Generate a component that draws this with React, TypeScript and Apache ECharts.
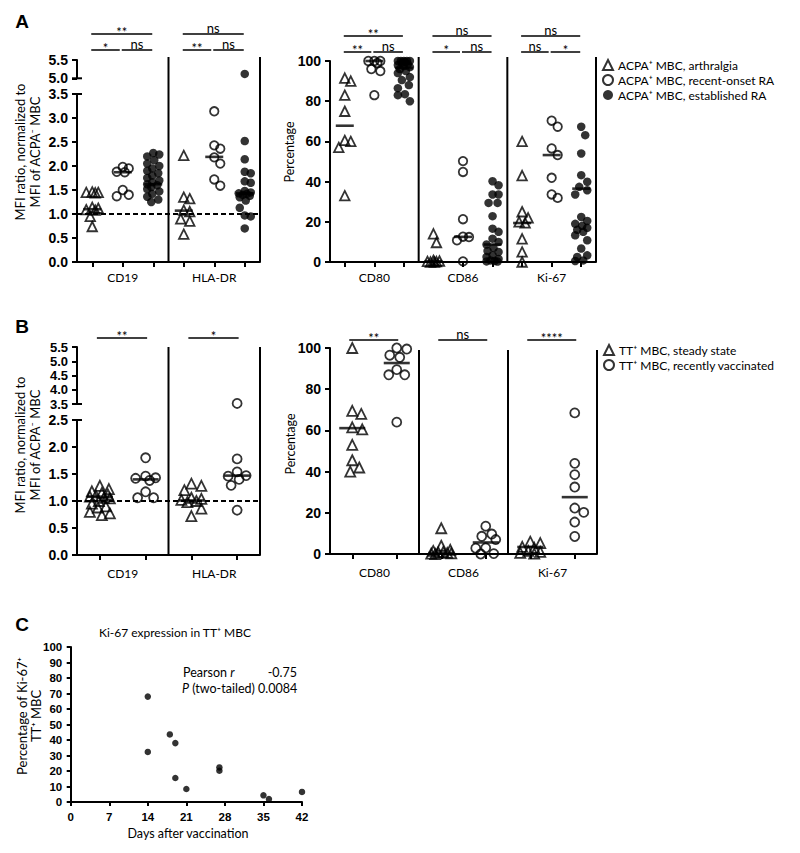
import React, { useEffect, useRef } from "react";
import * as echarts from "echarts";

// ======================= DATA =======================
// Panel A – ACPA+ memory B cells
const aCohorts = ["ACPA⁺ MBC, arthralgia", "ACPA⁺ MBC, recent-onset RA", "ACPA⁺ MBC, established RA"];
const aMfiMarkers = ["CD19", "HLA-DR"];
const aMfiCd19Arthralgia = [1.46, 1.45, 1.45, 1.44, 1.14, 1.12, 1.09, 1.08, 0.95, 0.74];
const aMfiCd19RecentOnset = [1.98, 1.95, 1.88, 1.87, 1.5, 1.4, 1.37];
const aMfiCd19Established = [2.27, 2.24, 2.2, 2.12, 2.05, 2.0, 1.95, 1.9, 1.85, 1.8, 1.75, 1.7, 1.66, 1.62, 1.6, 1.56, 1.52, 1.47, 1.42, 1.36, 1.3, 1.25];
const aMfiHlaArthralgia = [2.22, 1.35, 1.32, 1.08, 1.05, 0.9, 0.85, 0.58];
const aMfiHlaRecentOnset = [3.14, 2.43, 2.36, 2.18, 2.05, 1.72, 1.59];
const aMfiHlaEstablished = [5.12, 2.52, 2.14, 1.88, 1.85, 1.68, 1.65, 1.48, 1.45, 1.43, 1.42, 1.4, 1.38, 1.35, 1.28, 1.13, 0.97, 0.95, 0.7];
const aMfiMedians = [1.1, 1.87, 1.62, 1.07, 2.19, 1.43];
const aMfiSignificance: [number, number, string, number][] = [
  [0, 2, "**", 0], [0, 1, "*", 1], [1, 2, "ns", 1],
  [3, 5, "ns", 0], [3, 4, "**", 1], [4, 5, "ns", 1],
];

const aPctMarkers = ["CD80", "CD86", "Ki-67"];
const aPctCd80Arthralgia = [91.5, 90, 83, 75, 60.5, 60, 57, 33];
const aPctCd80RecentOnset = [100, 100, 100, 99, 96, 95, 83];
const aPctCd80Established = [100, 100, 100, 100, 100, 99.5, 99, 98.5, 98, 97.5, 97, 96, 95, 94, 92, 90.5, 88, 86.5, 83.5, 83, 80];
const aPctCd86Arthralgia = [14, 9.7, 0.8, 0.5, 0.3, 0.2, 0, 0];
const aPctCd86RecentOnset = [50.2, 44.8, 21.3, 12.6, 12.4, 10.8, 0.3];
const aPctCd86Established = [40.2, 38.2, 33.6, 33.6, 29.4, 29.4, 22.8, 16.6, 15, 11.6, 10, 8.7, 7, 5.5, 5, 3.3, 2.5, 1.5, 0.8, 0.5, 0.3, 0.2];
const aPctKi67Arthralgia = [60, 43, 25, 22, 20, 19.5, 11.5, 5, 0];
const aPctKi67RecentOnset = [70.3, 67.3, 56.5, 53.2, 41.9, 33.6, 31.9];
const aPctKi67Established = [67.3, 63.1, 54, 43.2, 39.9, 37.4, 35.7, 33.6, 22.4, 20.4, 19, 18, 17, 16, 15, 13.3, 10.8, 6.7, 3.3, 2.5, 0.8, 0.5];
const aPctMedians = [67.8, 100, 96.5, 0.4, 12.5, 8.7, 19.4, 53.2, 36.5];
const aPctSignificance: [number, number, string, number][] = [
  [0, 2, "**", 0], [0, 1, "**", 1], [1, 2, "ns", 1],
  [3, 5, "ns", 0], [3, 4, "*", 1], [4, 5, "ns", 1],
  [6, 8, "ns", 0], [6, 7, "ns", 1], [7, 8, "*", 1],
];

// Panel B – TT+ memory B cells
const bCohorts = ["TT⁺ MBC, steady state", "TT⁺ MBC, recently vaccinated"];
const bMfiMarkers = ["CD19", "HLA-DR"];
const bMfiCd19Steady = [1.28, 1.22, 1.18, 1.15, 1.12, 1.1, 1.08, 1.06, 1.05, 1.0, 0.95, 0.9, 0.88, 0.8, 0.77, 0.74];
const bMfiCd19Vaccinated = [1.8, 1.46, 1.43, 1.42, 1.38, 1.17, 1.06, 1.06];
const bMfiHlaSteady = [1.32, 1.28, 1.2, 1.06, 1.04, 1.02, 1.0, 0.98, 0.86, 0.72];
const bMfiHlaVaccinated = [3.52, 1.78, 1.54, 1.47, 1.46, 1.4, 1.29, 0.83];
const bMfiMedians = [1.08, 1.4, 1.01, 1.47];
const bMfiSignificance: [number, number, string, number][] = [[0, 1, "**", 0], [2, 3, "*", 0]];

const bPctMarkers = ["CD80", "CD86", "Ki-67"];
const bPctCd80Steady = [100, 69.5, 68, 61.5, 60.5, 53, 45.5, 42, 40];
const bPctCd80Vaccinated = [100, 99.5, 96.5, 95.5, 89.5, 87, 87, 64];
const bPctCd86Steady = [12.5, 4, 2, 1.5, 1, 0.8, 0.5, 0.3, 0.2, 0];
const bPctCd86Vaccinated = [13.5, 9.7, 8.6, 7, 3, 2.8, 0.2, 0];
const bPctKi67Steady = [6, 5.3, 3.5, 3, 1.5, 1, 0.5, 0.2];
const bPctKi67Vaccinated = [68.5, 44, 38.5, 32.5, 22.3, 20.2, 15.5, 8.5];
const bPctMedians = [61.1, 92.7, 0.5, 5.6, 3.4, 27.6];
const bPctSignificance: [number, number, string, number][] = [[0, 1, "**", 0], [2, 3, "ns", 0], [4, 5, "****", 0]];

// Panel C – Ki-67 vs days after vaccination
const cTitle = "Ki-67 expression in TT⁺ MBC";
const cDays = [14, 14, 18, 19, 19, 21, 27, 27, 35, 36, 42];
const cKi67 = [68, 32.3, 43.6, 38, 15.5, 8.4, 22.3, 20.2, 4.3, 1.9, 6.5];
const cPearsonR = "-0.75";
const cPValue = "0.0084";

// ======================= STYLE / LAYOUT =======================
const FONT_NUM = "'Liberation Sans', Arial, Helvetica, sans-serif";
const FONT_TXT = "Lato, 'Open Sans', 'DejaVu Sans', sans-serif";
const hollow = { color: "rgba(0,0,0,0)", borderColor: "#000", borderWidth: 1.8 };
const solid = { color: "#000", borderWidth: 0 };

type Rect = { left: number; top: number; width: number; height: number };
type CohortStyle = { symbol: string; filled: boolean; size: number };

const aStyles: CohortStyle[] = [
  { symbol: "triangle", filled: false, size: 9.5 },
  { symbol: "circle", filled: false, size: 8.5 },
  { symbol: "circle", filled: true, size: 8.5 },
];
const bStyles: CohortStyle[] = [
  { symbol: "triangle", filled: false, size: 10 },
  { symbol: "circle", filled: false, size: 9 },
];

const dotPanels: any[] = [
  {
    upper: { left: 77, top: 60, width: 183, height: 18.3 }, upperRange: [5, 5.5, 0.5], upperFont: 14,
    lower: { left: 77, top: 94, width: 183, height: 168 }, lowerRange: [0, 3.5, 0.5],
    groups: [aMfiCd19Arthralgia, aMfiCd19RecentOnset, aMfiCd19Established, aMfiHlaArthralgia, aMfiHlaRecentOnset, aMfiHlaEstablished],
    cohorts: aCohorts, styles: aStyles, markers: aMfiMarkers, medians: aMfiMedians, medianWidth: 18,
    cap: 6, diam: 9, decimals: 1, labelMargin: 9, refLine: 1,
    significance: aMfiSignificance, bracketY: [34, 50], bracketStyle: "narrow", dividerTop: 57,
    title: ["MFI ratio, normalized to", "MFI of ACPA⁻ MBC"], titlePos: [27, 152], titleSize: 13,
  },
  {
    lower: { left: 330, top: 61, width: 266, height: 201 }, lowerRange: [0, 100, 20],
    groups: [aPctCd80Arthralgia, aPctCd80RecentOnset, aPctCd80Established, aPctCd86Arthralgia, aPctCd86RecentOnset, aPctCd86Established, aPctKi67Arthralgia, aPctKi67RecentOnset, aPctKi67Established],
    cohorts: aCohorts, styles: aStyles, markers: aPctMarkers, medians: aPctMedians, medianWidth: 18,
    cap: 6, diam: 9, decimals: 0, labelMargin: 9,
    significance: aPctSignificance, bracketY: [36, 52], bracketStyle: "narrow", dividerTop: 57,
    title: ["Percentage"], titlePos: [289, 152], titleSize: 12.5,
  },
  {
    upper: { left: 77, top: 347, width: 183, height: 57 }, upperRange: [3.5, 5.5, 0.5], upperFont: 13,
    lower: { left: 77, top: 420, width: 183, height: 135 }, lowerRange: [0, 2.5, 0.5],
    groups: [bMfiCd19Steady, bMfiCd19Vaccinated, bMfiHlaSteady, bMfiHlaVaccinated],
    cohorts: bCohorts, styles: bStyles, markers: bMfiMarkers, medians: bMfiMedians, medianWidth: 26,
    cap: 10, diam: 9.5, decimals: 1, labelMargin: 12, refLine: 1,
    significance: bMfiSignificance, bracketY: [338], bracketStyle: "wide", dividerTop: 347,
    title: ["MFI ratio, normalized to", "MFI of ACPA⁻ MBC"], titlePos: [27, 445], titleSize: 13,
  },
  {
    lower: { left: 330, top: 348, width: 267, height: 206 }, lowerRange: [0, 100, 20],
    groups: [bPctCd80Steady, bPctCd80Vaccinated, bPctCd86Steady, bPctCd86Vaccinated, bPctKi67Steady, bPctKi67Vaccinated],
    cohorts: bCohorts, styles: bStyles, markers: bPctMarkers, medians: bPctMedians, medianWidth: 26,
    cap: 10, diam: 9.5, decimals: 0, labelMargin: 12,
    significance: bPctSignificance, bracketY: [340], bracketStyle: "wide", dividerTop: 350,
    title: ["Percentage"], titlePos: [290, 444], titleSize: 12.5,
  },
];

const cGrid: Rect = { left: 70.7, top: 647, width: 231.3, height: 155 };

// ======================= HELPERS =======================
// simple beeswarm: horizontal pixel offsets for points given their vertical pixel positions
function swarm(ys: number[], diam: number, cap: number): number[] {
  const order = ys.map((_, i) => i).sort((a, b) => ys[b] - ys[a]);
  const placed: { x: number; y: number }[] = [];
  const out = new Array(ys.length).fill(0);
  const cands: number[] = [0];
  for (let k = 1; k <= cap; k++) cands.push(k, -k);
  for (const idx of order) {
    const y = ys[idx];
    let best = 0;
    let bestScore = -Infinity;
    for (const c of cands) {
      let minD = Infinity;
      for (const p of placed) {
        const d = Math.hypot(p.x - c, p.y - y);
        if (d < minD) minD = d;
      }
      if (minD >= diam) { best = c; break; }
      if (minD > bestScore + 1e-9) { bestScore = minD; best = c; }
    }
    placed.push({ x: best, y });
    out[idx] = best;
  }
  return out;
}

function gridOf(r: Rect) {
  return { ...r, containLabel: false, outerBoundsMode: "none" };
}

function yAxisOf(gridIndex: number, range: number[], decimals: number, fontSize = 14, margin = 9) {
  return {
    type: "value", gridIndex, min: range[0], max: range[1], interval: range[2], position: "left",
    axisLine: { show: true, onZero: false, lineStyle: { color: "#000", width: 2 } },
    axisTick: { show: true, inside: false, length: 5, lineStyle: { color: "#000", width: 2 } },
    axisLabel: {
      show: true, margin, color: "#000", fontFamily: FONT_NUM, fontWeight: "bold", fontSize, lineHeight: fontSize,
      formatter: (v: number) => v.toFixed(decimals),
    },
    splitLine: { show: false },
  };
}

function buildOption() {
  const grids: any[] = [];
  const xAxes: any[] = [];
  const yAxes: any[] = [];
  const series: any[] = [];
  const infos: any[] = [];

  for (const p of dotPanels) {
    const n = p.groups.length;
    const nc = p.cohorts.length;
    const info: any = { p, n };
    const catPx = p.lower.width / n;
    if (p.upper) {
      const gu = grids.push(gridOf(p.upper)) - 1;
      info.upX = xAxes.push({ type: "value", gridIndex: gu, min: 0, max: n, show: false, position: "bottom" }) - 1;
      info.upY = yAxes.push(yAxisOf(gu, p.upperRange, p.decimals, p.upperFont)) - 1;
    }
    const gl = grids.push(gridOf(p.lower)) - 1;
    info.valX = xAxes.push({ type: "value", gridIndex: gl, min: 0, max: n, show: false, position: "bottom" }) - 1;
    xAxes.push({
      type: "category", gridIndex: gl, position: "bottom", data: p.groups.map((_: any, i: number) => "g" + i), boundaryGap: true,
      axisLine: { show: true, onZero: false, lineStyle: { color: "#000", width: 2 } },
      axisTick: { show: true, alignWithLabel: true, interval: 0, length: 5, lineStyle: { color: "#000", width: 2 } },
      axisLabel: { show: false }, splitLine: { show: false },
    });
    xAxes.push({
      type: "category", gridIndex: gl, position: "bottom", data: p.markers, boundaryGap: true,
      axisLine: { show: false, onZero: false }, axisTick: { show: false },
      axisLabel: { show: true, interval: 0, margin: p.labelMargin, color: "#000", fontFamily: FONT_TXT, fontSize: 12 },
      splitLine: { show: false },
    });
    info.lowY = yAxes.push(yAxisOf(gl, p.lowerRange, p.decimals)) - 1;

    const lowPx = p.lower.height / (p.lowerRange[1] - p.lowerRange[0]);
    const upPx = p.upper ? p.upper.height / (p.upperRange[1] - p.upperRange[0]) : 1;
    p.cohorts.forEach((name: string, ci: number) => {
      const st: CohortStyle = p.styles[ci];
      const low: number[][] = [];
      const up: number[][] = [];
      p.groups.forEach((vals: number[], gi: number) => {
        if (gi % nc !== ci) return;
        const lv = vals.filter((v) => v <= p.lowerRange[1]);
        const uv = vals.filter((v) => v > p.lowerRange[1]);
        const lo = swarm(lv.map((v) => (v - p.lowerRange[0]) * lowPx), p.diam, p.cap);
        lv.forEach((v, k) => low.push([gi + 0.5 + lo[k] / catPx, v]));
        if (uv.length) {
          const uo = swarm(uv.map((v) => v * upPx), p.diam, p.cap);
          uv.forEach((v, k) => up.push([gi + 0.5 + uo[k] / catPx, v]));
        }
      });
      const base = {
        type: "scatter", name, symbol: st.symbol, symbolSize: st.size,
        itemStyle: st.filled ? solid : hollow, clip: false, silent: true, z: 2,
      };
      series.push({ ...base, xAxisIndex: info.valX, yAxisIndex: info.lowY, data: low });
      if (up.length) series.push({ ...base, xAxisIndex: info.upX, yAxisIndex: info.upY, data: up });
    });
    const med: any = {
      type: "scatter", name: "median", symbol: "rect", symbolSize: [p.medianWidth, 2.6],
      itemStyle: { color: "#000" }, xAxisIndex: info.valX, yAxisIndex: info.lowY,
      data: p.medians.map((m: number, i: number) => [i + 0.5, m]), clip: false, silent: true, z: 3,
    };
    if (p.refLine != null) {
      med.markLine = {
        silent: true, symbol: ["none", "none"], label: { show: false }, animation: false,
        lineStyle: { color: "#000", width: 1.8, type: [5, 3] }, data: [{ yAxis: p.refLine }],
      };
    }
    series.push(med);
    infos.push(info);
  }

  // Panel C
  const gc = grids.push(gridOf(cGrid)) - 1;
  const cx = xAxes.push({
    type: "value", gridIndex: gc, min: 0, max: 42, interval: 7, position: "bottom",
    axisLine: { show: true, onZero: false, lineStyle: { color: "#000", width: 2 } },
    axisTick: { show: true, inside: false, length: 4, lineStyle: { color: "#000", width: 2 } },
    axisLabel: { show: true, margin: 9, color: "#000", fontFamily: FONT_NUM, fontWeight: "bold", fontSize: 11.5 },
    splitLine: { show: false },
  }) - 1;
  const cy = yAxes.push({
    ...yAxisOf(gc, [0, 100, 10], 0, 11.5, 8.5),
    axisTick: { show: true, inside: false, length: 4, lineStyle: { color: "#000", width: 2 } },
  }) - 1;
  series.push({
    type: "scatter", name: "Ki-67", xAxisIndex: cx, yAxisIndex: cy, symbol: "circle", symbolSize: 6.5,
    itemStyle: { color: "#000" }, data: cDays.map((d, i) => [d, cKi67[i]]), clip: false, silent: true,
  });

  const legendBase = {
    orient: "vertical", itemWidth: 10, itemHeight: 10, itemGap: 1, selectedMode: false, padding: 0,
    textStyle: { fontFamily: FONT_TXT, fontSize: 12, color: "#000", lineHeight: 14 },
  };
  const legendData = (names: string[], styles: CohortStyle[]) =>
    names.map((name, i) => ({
      name, icon: styles[i].symbol,
      itemStyle: styles[i].filled ? { color: "#000", borderWidth: 0 } : { color: "rgba(0,0,0,0)", borderColor: "#000", borderWidth: 2 },
    }));

  const option = {
    animation: false,
    backgroundColor: "#fff",
    textStyle: { fontFamily: FONT_TXT },
    grid: grids,
    xAxis: xAxes,
    yAxis: yAxes,
    series,
    legend: [
      { ...legendBase, left: 602, top: 58, data: legendData(aCohorts, aStyles) },
      { ...legendBase, left: 603, top: 343, data: legendData(bCohorts, bStyles) },
    ],
  };
  return { option, infos };
}

function buildGraphics(chart: any, infos: any[]) {
  const els: any[] = [];
  const line = (x1: number, y1: number, x2: number, y2: number, w = 2) =>
    els.push({ type: "line", silent: true, z: 10, shape: { x1, y1, x2, y2 }, style: { stroke: "#000", lineWidth: w } });
  const text = (x: number, y: number, str: string, st: any, rotation = 0) =>
    els.push({
      type: "text", silent: true, z: 10, x, y, rotation,
      style: { text: str, fill: "#000", ...st },
    });

  for (const info of infos) {
    const p = info.p;
    const px = (v: number) => chart.convertToPixel({ xAxisIndex: info.valX }, v) as number;
    const py = (v: number) => chart.convertToPixel({ yAxisIndex: info.lowY }, v) as number;
    const bottom = py(p.lowerRange[0]);
    const gpm = p.cohorts.length;
    for (let k = gpm; k <= info.n; k += gpm) {
      const x = px(k);
      line(x, p.dividerTop, x, bottom);
    }
    const axisX = px(0);
    if (p.upper) {
      const yu = chart.convertToPixel({ yAxisIndex: info.upY }, p.upperRange[0]) as number;
      const yl = py(p.lowerRange[1]);
      line(axisX - 5, yu, axisX + 5, yu);
      line(axisX - 5, yl, axisX + 5, yl);
    }
    for (const [from, to, label, level] of p.significance) {
      let x1: number, x2: number;
      if (p.bracketStyle === "wide") {
        x1 = px(from + 0.5) - 3;
        x2 = px(to + 0.5) + 1.5;
      } else {
        x1 = px(from + 0.5) - 1;
        x2 = px(to + 0.5) - 1;
        if (level === 1 && from % gpm === 0) x2 -= 2;
      }
      const y = p.bracketY[level];
      line(x1, y, x2, y, 1.5);
      const stars = label.indexOf("*") >= 0;
      text((x1 + x2) / 2, stars ? y - 2 : y - 6.5, label, {
        fontFamily: FONT_TXT, fontSize: 13, align: "center", verticalAlign: "middle",
        textAlign: "center", textVerticalAlign: "middle",
      });
    }
    text(p.titlePos[0], p.titlePos[1], p.title.join("\n"), {
      fontFamily: FONT_TXT, fontSize: p.titleSize, lineHeight: 15,
      align: "center", verticalAlign: "middle", textAlign: "center", textVerticalAlign: "middle",
    }, Math.PI / 2);
  }

  const letter = { fontFamily: FONT_NUM, fontWeight: "bold", fontSize: 19, align: "center", verticalAlign: "middle", textAlign: "center", textVerticalAlign: "middle" };
  text(22, 21, "A", letter);
  text(22, 326, "B", letter);
  text(22, 624, "C", letter);

  const mid = { align: "center", verticalAlign: "middle", textAlign: "center", textVerticalAlign: "middle" };
  text(175, 632, cTitle, { fontFamily: FONT_TXT, fontSize: 12, ...mid });
  text(188, 833, "Days after vaccination", { fontFamily: FONT_TXT, fontSize: 12.5, ...mid });
  text(28.5, 716, "Percentage of Ki-67⁺\nTT⁺ MBC", { fontFamily: FONT_TXT, fontSize: 13, lineHeight: 14, ...mid }, Math.PI / 2);

  const leftMid = { align: "left", verticalAlign: "middle", textAlign: "left", textVerticalAlign: "middle" };
  const rich = { i: { fontFamily: FONT_TXT, fontSize: 12.5, fontStyle: "italic", fill: "#000" }, n: { fontFamily: FONT_TXT, fontSize: 12.5, fill: "#000" } };
  text(183, 672, "{n|Pearson }{i|r}", { rich, fontFamily: FONT_TXT, fontSize: 12.5, ...leftMid });
  text(297, 672, cPearsonR, { fontFamily: FONT_TXT, fontSize: 12.5, align: "right", verticalAlign: "middle", textAlign: "right", textVerticalAlign: "middle" });
  text(182, 688, "{i|P}{n| (two-tailed) " + cPValue + "}", { rich, fontFamily: FONT_TXT, fontSize: 12.5, ...leftMid });

  return els;
}

export default function App() {
  const ref = useRef<HTMLDivElement>(null);
  useEffect(() => {
    const el = ref.current;
    if (!el) return;
    const chart = echarts.init(el, undefined, { renderer: "svg" });
    const { option, infos } = buildOption();
    chart.setOption(option as any);
    chart.setOption({ graphic: buildGraphics(chart, infos) } as any);
    return () => chart.dispose();
  }, []);
  return (
    <div
      ref={ref}
      style={{ position: "fixed", left: 0, top: 0, width: 800, height: 853, background: "#fff" }}
    />
  );
}
